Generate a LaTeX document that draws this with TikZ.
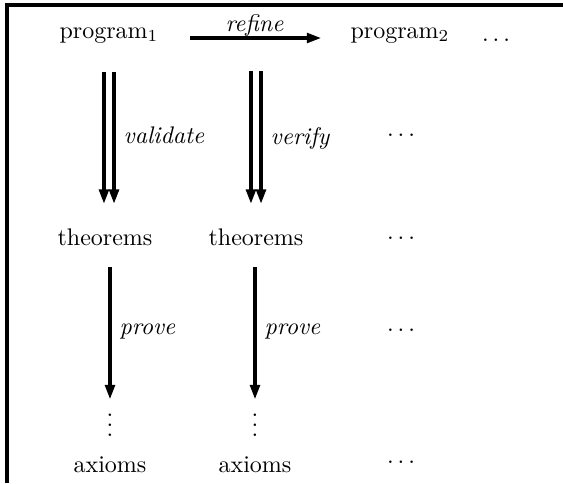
\documentclass[tikz,border=0pt]{standalone}
\usepackage{tikz}
\usetikzlibrary{arrows.meta}

\begin{document}
\begin{tikzpicture}[x=0.4167pt, y=-0.4167pt,
    term/.style={anchor=base, inner sep=0pt},
    etc/.style={inner sep=0pt},
    link/.style={line width=1.4pt, -{Triangle[length=6pt,width=4pt]}},
    tag/.style={font=\itshape}]
    \useasboundingbox (0,0) rectangle (563,483);
    % frame
    \draw[line width=1.6pt] (563,5) -- (7,5) -- (7,483);

    % top row
    \node[term] (prog1) at (109,38) {program$_1$};
    \node[term] (prog2) at (400,38) {program$_2$};
    \node[etc] (dots1) at (496,40) {$\ldots$};
    \coordinate (top2) at (256,71);
    \node[etc] (dots2) at (401,135) {$\ldots$};

    % theorems row
    \node[term] (thm1) at (105,245) {theorems};
    \node[term] (thm2) at (256,245) {theorems};
    \node[etc] (dots3) at (401,238) {$\ldots$};
    \node[etc] (dots4) at (401,330) {$\ldots$};

    % axioms row
    \node[term] (vd1) at (110,436) {$\vdots$};
    \node[term] (vd2) at (255,436) {$\vdots$};
    \node[term] (ax1) at (110,472) {axioms};
    \node[term] (ax2) at (255,472) {axioms};
    \node[etc] (dots5) at (401,462) {$\ldots$};

    % refine
    \draw[link, shorten <=13pt, shorten >=12pt] (prog1.base east) -- node[above, inner sep=0pt, tag] {refine} (prog2.base west);

    % validate (double)
    \draw[link, shorten <=12pt, shorten >=10pt] ([xshift=-2.1pt]prog1.south) -- ([xshift=-2.1pt]prog1.south |- thm1.north);
    \draw[link, shorten <=12pt, shorten >=10pt] ([xshift=2.1pt]prog1.south) -- node[right, tag] {validate} ([xshift=2.1pt]prog1.south |- thm1.north);

    % verify (double)
    \draw[link, shorten >=10pt] ([xshift=-2.1pt]top2) -- ([xshift=-2.1pt]top2 |- thm2.north);
    \draw[link, shorten >=10pt] ([xshift=2.1pt]top2) -- node[right, pos=0.43, tag] {verify} ([xshift=2.1pt]top2 |- thm2.north);

    % prove
    \draw[link, shorten <=9pt] (thm1.south -| vd1) -- node[right, pos=0.56, tag] {prove} (vd1.north);
    \draw[link, shorten <=9pt] (thm2.south -| vd2) -- node[right, pos=0.56, tag] {prove} (vd2.north);
\end{tikzpicture}
\end{document}
